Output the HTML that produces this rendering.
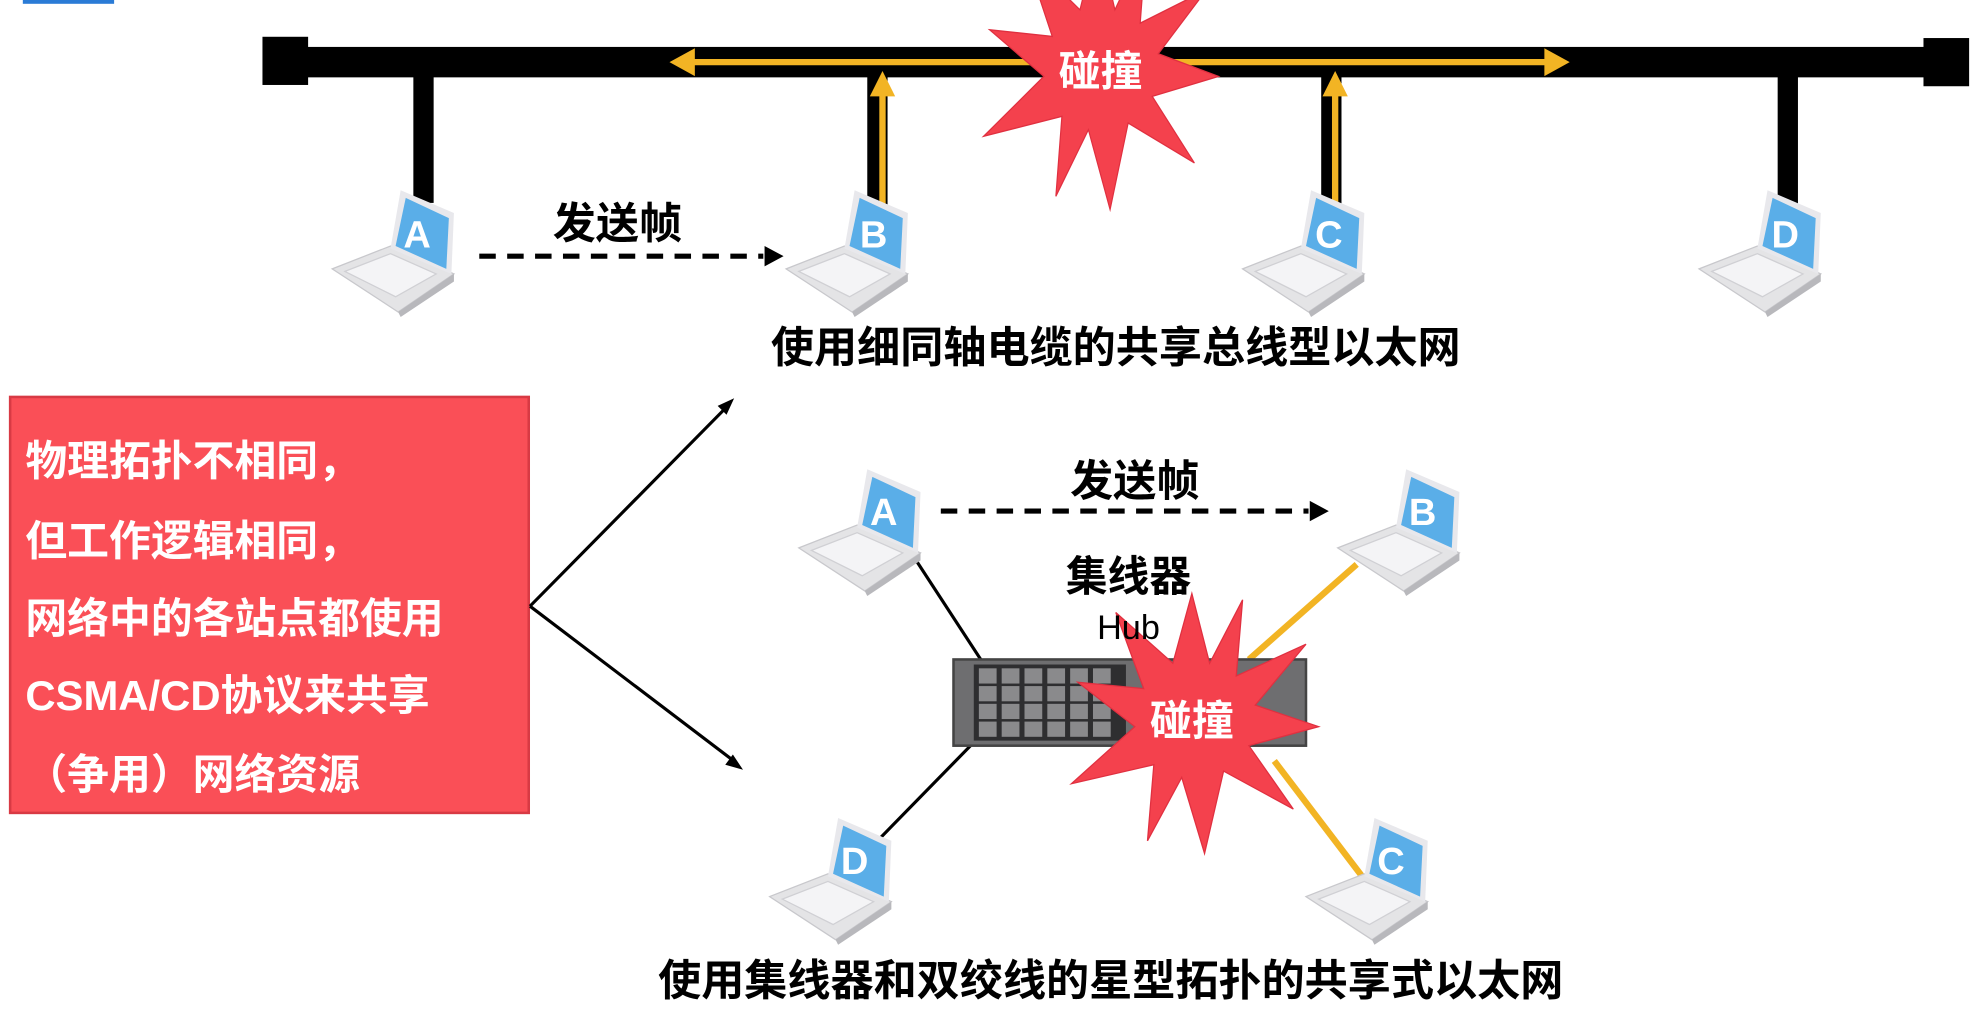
<!DOCTYPE html>
<html><head><meta charset="utf-8"><style>
html,body{margin:0;padding:0;background:#fff;}
svg{display:block;}
text{font-family:"Liberation Sans","Noto Sans CJK SC",sans-serif;font-weight:bold;}
</style></head><body>
<svg width="1978" height="1012" viewBox="0 0 1560 798" preserveAspectRatio="none" xmlns="http://www.w3.org/2000/svg">
<defs>
<g id="lap">
  <polygon points="0,62 46,44 96,66 52,96" fill="#e4e4e6" stroke="#c8c8cc" stroke-width="1"/>
  <polygon points="10,64 46,50 82,66 50,84" fill="#f4f4f6" stroke="#d0d0d4" stroke-width="1"/>
  <polygon points="52,96 96,66 96,72 54,100" fill="#b8b8bc"/>
  <polygon points="54,0 96,18 94,66 46,46" fill="#e8e8ec"/>
  <polygon points="58,6 92,22 90,62 50,44" fill="#5aaee8"/>
</g>
<polygon id="star" points="0,-100 14,-45 40,-95 35,-35 90,-60 50,-12 100,5 45,20 80,70 25,40 10,105 -8,45 -35,95 -30,35 -95,50 -45,5 -90,-30 -38,-25 -60,-85 -15,-45"/>
</defs>
<rect x="18" y="0" width="72" height="3" fill="#2a7bd6"/>
<rect x="210" y="37" width="1340" height="24" fill="#000"/>
<rect x="207" y="29" width="36" height="38" fill="#000"/>
<rect x="1517" y="30" width="36" height="38" fill="#000"/>
<rect x="326" y="60" width="16" height="100" fill="#000"/>
<rect x="684" y="60" width="16" height="110" fill="#000"/>
<rect x="1042" y="60" width="16" height="110" fill="#000"/>
<rect x="1402" y="60" width="16" height="110" fill="#000"/>
<g stroke="#f2b424" stroke-width="5" fill="#f2b424">
<line x1="545" y1="49" x2="1220" y2="49"/>
<line x1="696" y1="165" x2="696" y2="70"/>
<line x1="1053" y1="165" x2="1053" y2="70"/>
</g>
<polygon points="528,49 548,38 548,60" fill="#f2b424"/>
<polygon points="1238,49 1218,38 1218,60" fill="#f2b424"/>
<polygon points="696,56 686,76 706,76" fill="#f2b424"/>
<polygon points="1053,56 1043,76 1063,76" fill="#f2b424"/>
<use href="#star" transform="translate(866,55) scale(0.95,1.05)" fill="#f4414d" stroke="#e03040"/>
<text x="868" y="68" font-size="33" fill="#fff" text-anchor="middle">碰撞</text>
<use href="#lap" x="262" y="150"/>
<use href="#lap" x="620" y="150"/>
<use href="#lap" x="980" y="150"/>
<use href="#lap" x="1340" y="150"/>
<g font-size="30" fill="#fff" text-anchor="middle">
<text x="329" y="195">A</text><text x="689" y="195">B</text><text x="1048" y="195">C</text><text x="1408" y="195">D</text>
</g>
<text x="487" y="188" font-size="34" text-anchor="middle">发送帧</text>
<line x1="378" y1="202" x2="602" y2="202" stroke="#000" stroke-width="4" stroke-dasharray="13,9"/>
<polygon points="618,202 603,194 603,210" fill="#000"/>
<text x="880" y="286" font-size="34" text-anchor="middle">使用细同轴电缆的共享总线型以太网</text>
<rect x="8" y="313" width="409" height="328" fill="#fa4f57" stroke="#d83a44" stroke-width="2"/>
<g font-size="33" fill="#fff">
<text x="20" y="375">物理拓扑不相同，</text>
<text x="20" y="438">但工作逻辑相同，</text>
<text x="20" y="499">网络中的各站点都使用</text>
<text x="20" y="560">CSMA/CD协议来共享</text>
<text x="20" y="622">（争用）网络资源</text>
</g>
<line x1="418" y1="478" x2="574" y2="320" stroke="#000" stroke-width="2.5"/>
<polygon points="579,314 566,320 573,327" fill="#000"/>
<line x1="418" y1="478" x2="580" y2="601" stroke="#000" stroke-width="2.5"/>
<polygon points="586,607 572,603 578,595" fill="#000"/>
<line x1="718" y1="435" x2="780" y2="530" stroke="#000" stroke-width="2.5"/>
<line x1="695" y1="660" x2="785" y2="568" stroke="#000" stroke-width="2.5"/>
<line x1="1070" y1="445" x2="985" y2="520" stroke="#f2b424" stroke-width="5"/>
<line x1="1005" y1="600" x2="1075" y2="692" stroke="#f2b424" stroke-width="5"/>
<rect x="752" y="520" width="278" height="68" fill="#6e6e70" stroke="#444" stroke-width="2"/>
<rect x="768" y="524" width="120" height="60" fill="#2e2e30"/>
<g fill="#8a8a8c">
<rect x="772" y="527" width="14" height="12"/><rect x="790" y="527" width="14" height="12"/><rect x="808" y="527" width="14" height="12"/><rect x="826" y="527" width="14" height="12"/><rect x="844" y="527" width="14" height="12"/><rect x="862" y="527" width="14" height="12"/>
<rect x="772" y="541" width="14" height="12"/><rect x="790" y="541" width="14" height="12"/><rect x="808" y="541" width="14" height="12"/><rect x="826" y="541" width="14" height="12"/><rect x="844" y="541" width="14" height="12"/><rect x="862" y="541" width="14" height="12"/>
<rect x="772" y="555" width="14" height="12"/><rect x="790" y="555" width="14" height="12"/><rect x="808" y="555" width="14" height="12"/><rect x="826" y="555" width="14" height="12"/><rect x="844" y="555" width="14" height="12"/><rect x="862" y="555" width="14" height="12"/>
<rect x="772" y="569" width="14" height="12"/><rect x="790" y="569" width="14" height="12"/><rect x="808" y="569" width="14" height="12"/><rect x="826" y="569" width="14" height="12"/><rect x="844" y="569" width="14" height="12"/><rect x="862" y="569" width="14" height="12"/>
</g>
<use href="#star" transform="translate(940,568) scale(1.0,1.0)" fill="#f4414d" stroke="#e03040"/>
<text x="940" y="580" font-size="33" fill="#fff" text-anchor="middle">碰撞</text>
<text x="890" y="466" font-size="33" text-anchor="middle">集线器</text>
<text x="890" y="504" font-size="27" style="font-weight:normal" text-anchor="middle">Hub</text>
<use href="#lap" x="630" y="370"/>
<use href="#lap" x="1055" y="370"/>
<use href="#lap" x="607" y="645"/>
<use href="#lap" x="1030" y="645"/>
<g font-size="30" fill="#fff" text-anchor="middle">
<text x="697" y="414">A</text><text x="1122" y="414">B</text><text x="674" y="689">D</text><text x="1097" y="689">C</text>
</g>
<text x="895" y="391" font-size="34" text-anchor="middle">发送帧</text>
<line x1="742" y1="403" x2="1032" y2="403" stroke="#000" stroke-width="4" stroke-dasharray="13,9"/>
<polygon points="1048,403 1033,395 1033,411" fill="#000"/>
<text x="876" y="785" font-size="34" text-anchor="middle">使用集线器和双绞线的星型拓扑的共享式以太网</text>
</svg>
</body></html>
